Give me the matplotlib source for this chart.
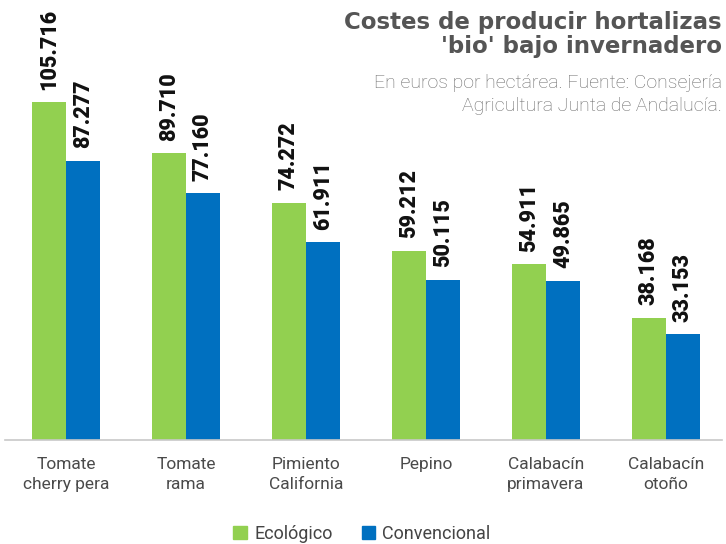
import matplotlib
matplotlib.use("Agg")
import matplotlib.pyplot as plt
import numpy as np
from matplotlib.patches import Patch

categories = ["Tomate\ncherry pera", "Tomate\nrama", "Pimiento\nCalifornia", "Pepino",
              "Calabacín\nprimavera", "Calabacín\notoño"]
ecologico = [105716, 89710, 74272, 59212, 54911, 38168]
convencional = [87277, 77160, 61911, 50115, 49865, 33153]
series_names = ["Ecológico", "Convencional"]

GREEN = "#92D050"
BLUE = "#0070C0"

plt.rcParams['font.family'] = ['Roboto', 'DejaVu Sans']

W, H = 726, 544
fig = plt.figure(figsize=(W/100, H/100), dpi=100)
ax = fig.add_axes([5/W, 104/H, 717/W, 440/H])

x = np.arange(len(categories))
bw = 0.283
b1 = ax.bar(x - bw/2, ecologico, bw, color=GREEN)
b2 = ax.bar(x + bw/2, convencional, bw, color=BLUE)

ax.set_xlim(-0.508, 5.467)
ax.set_ylim(0, 440/0.003197)

def fmt(v):
    return f"{v:,}".replace(",", ".")

for bars, vals in ((b1, ecologico), (b2, convencional)):
    for r, v in zip(bars, vals):
        ax.annotate(fmt(v), (r.get_x() + r.get_width()/2, v), xytext=(0, 9),
                    textcoords="offset points", rotation=90, ha="center", va="bottom",
                    fontsize=15.5, fontweight="heavy", color="#111111")

for s in ["top", "right", "left"]:
    ax.spines[s].set_visible(False)
ax.spines["bottom"].set_color("#c8c8c8")
ax.spines["bottom"].set_linewidth(1.2)
ax.set_yticks([])
ax.set_xticks(x)
ax.set_xticklabels(categories, fontsize=12.5, color="#4a4a4a", linespacing=1.45)
ax.tick_params(axis="x", length=0, pad=12)

fig.text(722/W, 1 - 11/H, "Costes de producir hortalizas\n'bio' bajo invernadero",
         ha="right", va="top", fontsize=16.5, fontweight="bold", color="#555555",
         linespacing=1.05, family=["DejaVu Sans"])
fig.text(722/W, 1 - 74/H, "En euros por hectárea. Fuente: Consejería\nAgricultura Junta de Andalucía.",
         ha="right", va="top", fontsize=14, color="#6a6a6a", linespacing=1.35,
         fontweight="light", family=["Roboto", "DejaVu Sans"])

handles = [Patch(color=GREEN), Patch(color=BLUE)]
fig.legend(handles, series_names, loc="center", bbox_to_anchor=(362/W, 1 - 534/H),
           ncol=2, frameon=False, handlelength=0.75, handleheight=0.75,
           handletextpad=0.4, columnspacing=1.6, labelcolor="#444444",
           prop={"size": 13, "family": ["Roboto", "DejaVu Sans"]})

fig.savefig("out.png", dpi=100)
